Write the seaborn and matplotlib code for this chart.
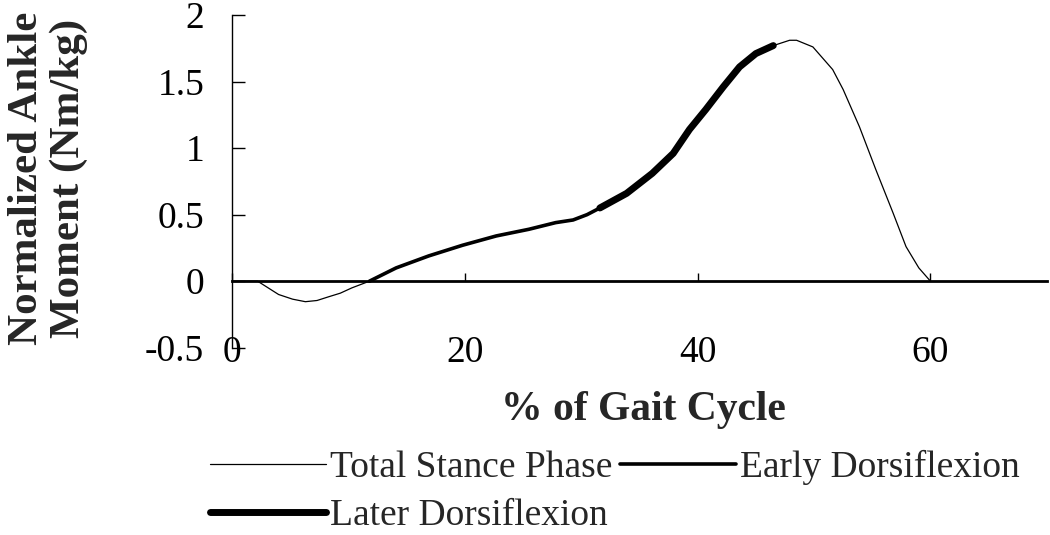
import numpy as np
import pandas as pd
import matplotlib
matplotlib.use("Agg")
import matplotlib.pyplot as plt
import seaborn as sns

# values
gait_pct = [0.0, 2.2, 3.1, 4.0, 5.2, 6.3, 7.3, 8.3, 9.3, 10.3, 11.8,
            14.1, 16.9, 19.8, 22.7, 25.5, 27.8, 29.3, 30.5, 31.6,
            33.9, 36.1, 37.9, 39.3, 40.7, 42.2, 43.6, 45.0, 46.5,
            47.9, 48.5, 49.9, 51.6, 52.5, 53.9, 55.3, 56.8, 57.9, 59.0, 60.0]
ankle_moment = [0.0, 0.0, -0.05, -0.10, -0.135, -0.154, -0.145, -0.117, -0.09, -0.05, 0.0,
                0.10, 0.19, 0.27, 0.34, 0.39, 0.44, 0.46, 0.50, 0.55,
                0.66, 0.81, 0.96, 1.14, 1.29, 1.46, 1.61, 1.71, 1.77,
                1.81, 1.81, 1.76, 1.59, 1.44, 1.16, 0.84, 0.51, 0.26, 0.10, 0.0]
early_range = (11.8, 31.6)
later_range = (31.6, 46.5)

df = pd.DataFrame({"pct": gait_pct, "moment": ankle_moment})
early = df[(df.pct >= early_range[0]) & (df.pct <= early_range[1])]
later = df[(df.pct >= later_range[0]) & (df.pct <= later_range[1])]

sns.set_style("ticks")
plt.rcParams['font.family'] = ['Liberation Serif', 'DejaVu Serif']

fig = plt.figure(figsize=(10.5, 5.35), dpi=100)
ax = fig.add_axes([0.221, 0.35, 0.776, 0.622])

sns.lineplot(data=df, x="pct", y="moment", ax=ax, color="black", lw=0.9,
             sort=False, label="Total Stance Phase")
sns.lineplot(data=early, x="pct", y="moment", ax=ax, color="black", lw=2.6,
             sort=False, label="Early Dorsiflexion")
sns.lineplot(data=later, x="pct", y="moment", ax=ax, color="black", lw=5.0,
             sort=False, label="Later Dorsiflexion")

ax.set_xlim(0, 70)
ax.set_ylim(-0.5, 2)
ax.set_xticks([0, 20, 40, 60])
ax.set_yticks([-0.5, 0, 0.5, 1, 1.5, 2])
ax.set_yticklabels(["-0.5", "0", "0.5", "1", "1.5", "2"])
ax.set_xlabel("")
ax.set_ylabel("")

for s in ["top", "right"]:
    ax.spines[s].set_visible(False)
ax.spines["bottom"].set_position(("data", 0))
ax.spines["bottom"].set_linewidth(2.0)
ax.spines["left"].set_linewidth(1.0)
ax.spines["left"].set_color("black")
ax.spines["bottom"].set_color("black")

ax.tick_params(axis="x", direction="in", length=6, width=1, pad=39,
               labelsize=27, colors="black")
ax.tick_params(axis="y", direction="in", length=9, width=1, pad=20,
               labelsize=27, colors="black")

fig.text(643 / 1050, 1 - 410 / 535, "% of Gait Cycle", ha="center", va="center",
         fontsize=30, fontweight="bold")
fig.text(48 / 1050, 1 - 178 / 535, "Normalized Ankle\nMoment (Nm/kg)",
         rotation=90, ha="center", va="center", fontsize=31, fontweight="bold",
         linespacing=1.15)

handles, labels = ax.get_legend_handles_labels()
ax.get_legend().remove()
order = [0, 2, 1]  # legend fills column-wise
fig.legend([handles[i] for i in order], [labels[i] for i in order], ncol=2,
           loc="upper left", bbox_to_anchor=(210 / 1050, 1 - 450 / 535),
           frameon=False, fontsize=27, handlelength=3.1, handletextpad=0.1,
           columnspacing=0.2, labelspacing=0.36, borderpad=0,
           borderaxespad=0)

fig.savefig("out.png", dpi=100)
